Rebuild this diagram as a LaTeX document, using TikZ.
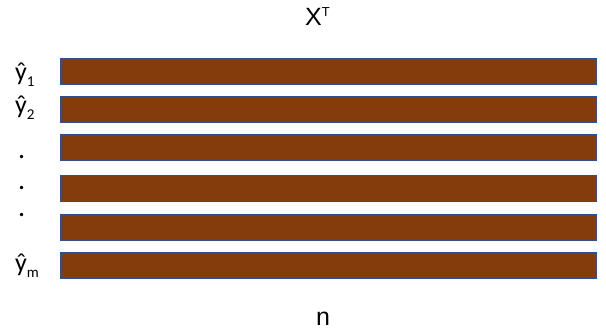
\documentclass[tikz,border=0pt]{standalone}
\usepackage{fontspec}
\setmainfont{Liberation Sans}
\newfontfamily\labfont{Carlito}
\usetikzlibrary{positioning}
\definecolor{barbrown}{HTML}{843C0C}
\definecolor{barblue}{HTML}{2F528F}
\newcommand{\lsub}[1]{\raisebox{-6pt}{\fontsize{15}{15}\selectfont #1}}

\begin{document}
\begin{tikzpicture}[x=1pt, y=-1pt,
      rowbar/.style={draw=barblue, fill=barbrown, line width=0.9pt,
        minimum width=536pt, minimum height=26pt, inner sep=0pt},
      lab/.style={font=\labfont\fontsize{26}{26}\selectfont, inner sep=0pt,
        anchor=base west},
      dotlab/.style={font=\labfont\fontsize{28}{28}\selectfont, inner sep=0pt},
      axis/.style={font=\fontsize{25}{25}\selectfont, inner sep=0pt,
        anchor=base west}
    ]
    \useasboundingbox (0,0) rectangle (606,334);

    \node[axis] (xt) at (305,26) {X\raisebox{9pt}{\fontsize{13}{13}\selectfont T}};

    \node[rowbar] (b1) at (328.3,71.2) {};
    \node[rowbar] (b2) at (328.3,109.7) {};
    \node[rowbar] (b3) at (328.3,147.8) {};
    \node[rowbar] (b4) at (328.3,188.8) {};
    \node[rowbar] (b5) at (328.3,227.5) {};
    \node[rowbar] (b6) at (328.3,265.5) {};

    \node[lab] (y1) at (15,81) {ŷ\lsub{1}};
    \node[lab] (y2) at (15,114) {ŷ\lsub{2}};
    \node[dotlab] (d1) at (21.7,157) {.};
    \node[dotlab] (d2) at (21.7,188) {.};
    \node[dotlab] (d3) at (21.7,215.5) {.};
    \node[lab] (ym) at (15,272) {ŷ\lsub{m}};

    \node[axis] (n) at (316,325) {n};
  \end{tikzpicture}
\end{document}
